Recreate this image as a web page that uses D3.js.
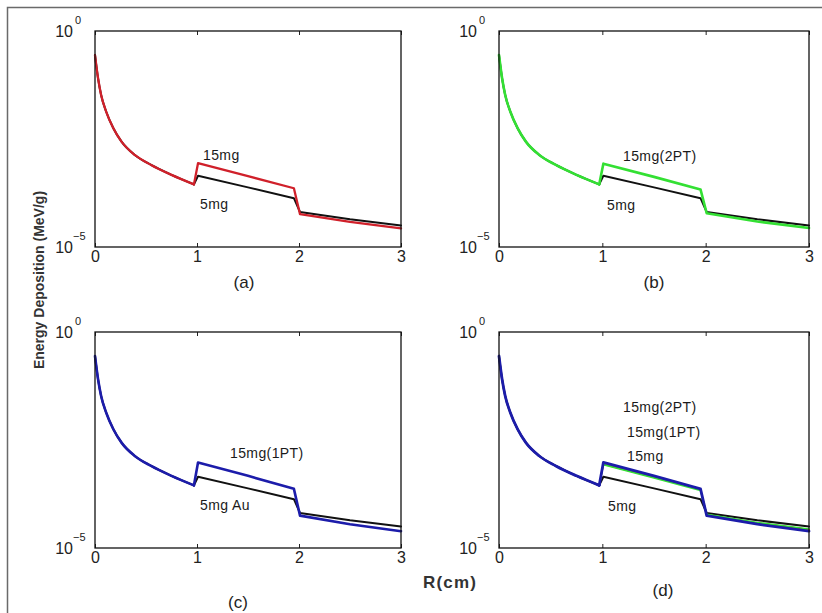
<!DOCTYPE html>
<html><head><meta charset="utf-8">
<script src="https://cdn.jsdelivr.net/npm/d3@7"></script>
<style>
body{margin:0;background:#fff;}
svg{display:block;font-family:Arial,"Liberation Sans",sans-serif;}
</style></head>
<body><svg id="c" width="822" height="613"></svg>
<script>
// ---------- data ----------
const R = [0, 0.03, 0.06, 0.11, 0.18, 0.26, 0.39, 0.55, 0.75, 0.97, 1.01, 1.5, 1.95, 2.01, 2.5, 3.0];
const baseEnd = 9; // index of last point of the smooth part (R=0.97)
const base = [0.278, 0.0804, 0.0331, 0.0135, 0.00562, 0.00275, 0.00135, 0.000794, 0.000468, 0.000282];
const mg5      = base.concat([4.47e-4, 2.40e-4, 1.35e-4, 6.46e-5, 4.37e-5, 3.16e-5]);
const mg15     = base.concat([8.71e-4, 4.37e-4, 2.29e-4, 5.75e-5, 3.80e-5, 2.69e-5]);
const mg15_2PT = base.concat([8.50e-4, 4.20e-4, 2.15e-4, 6.03e-5, 3.89e-5, 2.75e-5]);
const mg15_1PT = base.concat([9.55e-4, 4.68e-4, 2.34e-4, 5.62e-5, 3.55e-5, 2.45e-5]);
const xTicks = [0, 1, 2, 3];
const yTicks = [1e-5, 1];
const yTickExp = {"0.00001": "\u22125", "1": "0"};

const colors = {black: "#111", red: "#d0202a", green: "#33e033", blue: "#1c1caa"};

const panels = [
  {box: [95, 31, 401, 247], tag: "(a)", tagPos: [244, 288],
   series: [{v: mg5, c: "black", w: 2}, {v: mg15, c: "red", w: 2.3}],
   labels: [{t: "15mg", x: 203, y: 160}, {t: "5mg", x: 200, y: 209}]},
  {box: [499, 31, 809, 247], tag: "(b)", tagPos: [654, 288],
   series: [{v: mg5, c: "black", w: 2}, {v: mg15_2PT, c: "green", w: 2.6}],
   labels: [{t: "15mg(2PT)", x: 623, y: 161}, {t: "5mg", x: 607, y: 210}]},
  {box: [95, 332, 401, 548], tag: "(c)", tagPos: [238, 608],
   series: [{v: mg5, c: "black", w: 2}, {v: mg15_1PT, c: "blue", w: 2.6}],
   labels: [{t: "15mg(1PT)", x: 230, y: 458}, {t: "5mg Au", x: 200, y: 510}]},
  {box: [499, 332, 809, 548], tag: "(d)", tagPos: [663, 596],
   series: [{v: mg5, c: "black", w: 2}, {v: mg15, c: "red", w: 1.6},
            {v: mg15_2PT, c: "green", w: 1.6}, {v: mg15_1PT, c: "blue", w: 2.8}],
   labels: [{t: "15mg(2PT)", x: 623, y: 412}, {t: "15mg(1PT)", x: 627, y: 437}, {t: "15mg", x: 627, y: 461}, {t: "5mg", x: 608, y: 511}]}
];

const svg = d3.select("#c");

// outer frame
svg.append("rect").attr("x", 7.5).attr("y", 7.5).attr("width", 840).attr("height", 640)
  .attr("fill", "none").attr("stroke", "#6a6a6a").attr("stroke-width", 1.5);

panels.forEach(p => {
  const [l, t, r, b] = p.box;
  const x = d3.scaleLinear().domain([0, 3]).range([l, r]);
  const y = d3.scaleLog().domain([1e-5, 1]).range([b, t]);
  const g = svg.append("g");

  // curves
  const smooth = d3.line().x(d => x(d[0])).y(d => y(d[1])).curve(d3.curveMonotoneX);
  const straight = d3.line().x(d => x(d[0])).y(d => y(d[1]));
  p.series.forEach(s => {
    const pts = R.map((rv, i) => [rv, s.v[i]]);
    [smooth(pts.slice(0, baseEnd + 1)), straight(pts.slice(baseEnd))].forEach(dd => {
      g.append("path").attr("d", dd).attr("fill", "none")
        .attr("stroke", colors[s.c]).attr("stroke-width", s.w)
        .attr("stroke-linejoin", "round").attr("stroke-linecap", "round");
    });
  });

  // axes
  const xb = g.append("g").attr("transform", `translate(0,${b})`)
    .call(d3.axisBottom(x).tickValues(xTicks).tickFormat(d3.format("d")).tickSizeInner(-4).tickSizeOuter(0).tickPadding(4));
  const xt = g.append("g").attr("transform", `translate(0,${t})`)
    .call(d3.axisTop(x).tickValues(xTicks).tickFormat("").tickSizeInner(-4).tickSizeOuter(0));
  [xb, xt].forEach(a => {
    a.select(".domain").remove();
    a.selectAll("line").attr("stroke", "#222");
    a.selectAll("text").attr("font-size", 16).attr("fill", "#222").attr("font-family", "Arial, 'Liberation Sans', sans-serif");
  });
  const ya = g.append("g").attr("transform", `translate(${l},0)`)
    .call(d3.axisLeft(y).tickValues(yTicks).tickFormat("").tickSize(0));
  ya.select(".domain").remove();
  ya.selectAll(".tick").each(function(d) {
    const tk = d3.select(this);
    tk.append("text").attr("x", -22).attr("dy", "0.36em").attr("text-anchor", "end")
      .attr("font-size", 16).attr("fill", "#222").text("10");
    tk.append("text").attr("x", d === 1 ? -20 : -22).attr("y", -8).attr("text-anchor", "start")
      .attr("font-size", 11).attr("fill", "#222").text(yTickExp[String(d)]);
  });

  // box
  g.append("rect").attr("x", l).attr("y", t).attr("width", r - l).attr("height", b - t)
    .attr("fill", "none").attr("stroke", "#111").attr("stroke-width", 1.3);

  // labels
  p.labels.forEach(lb => {
    g.append("text").attr("x", lb.x).attr("y", lb.y).attr("font-size", 14)
      .attr("letter-spacing", 0.4).attr("fill", "#1a1a1a").text(lb.t);
  });
  g.append("text").attr("x", p.tagPos[0]).attr("y", p.tagPos[1]).attr("text-anchor", "middle")
    .attr("font-size", 17).attr("fill", "#222").text(p.tag);
});

// axis titles
svg.append("text").attr("transform", "translate(44,280) rotate(-90)").attr("text-anchor", "middle")
  .attr("font-size", 14).attr("font-weight", "bold").attr("fill", "#333").text("Energy Deposition (MeV/g)");
svg.append("text").attr("x", 423).attr("y", 588).attr("font-size", 17).attr("font-weight", "bold")
  .attr("letter-spacing", 1.2).attr("fill", "#333").text("R(cm)");
</script></body></html>
